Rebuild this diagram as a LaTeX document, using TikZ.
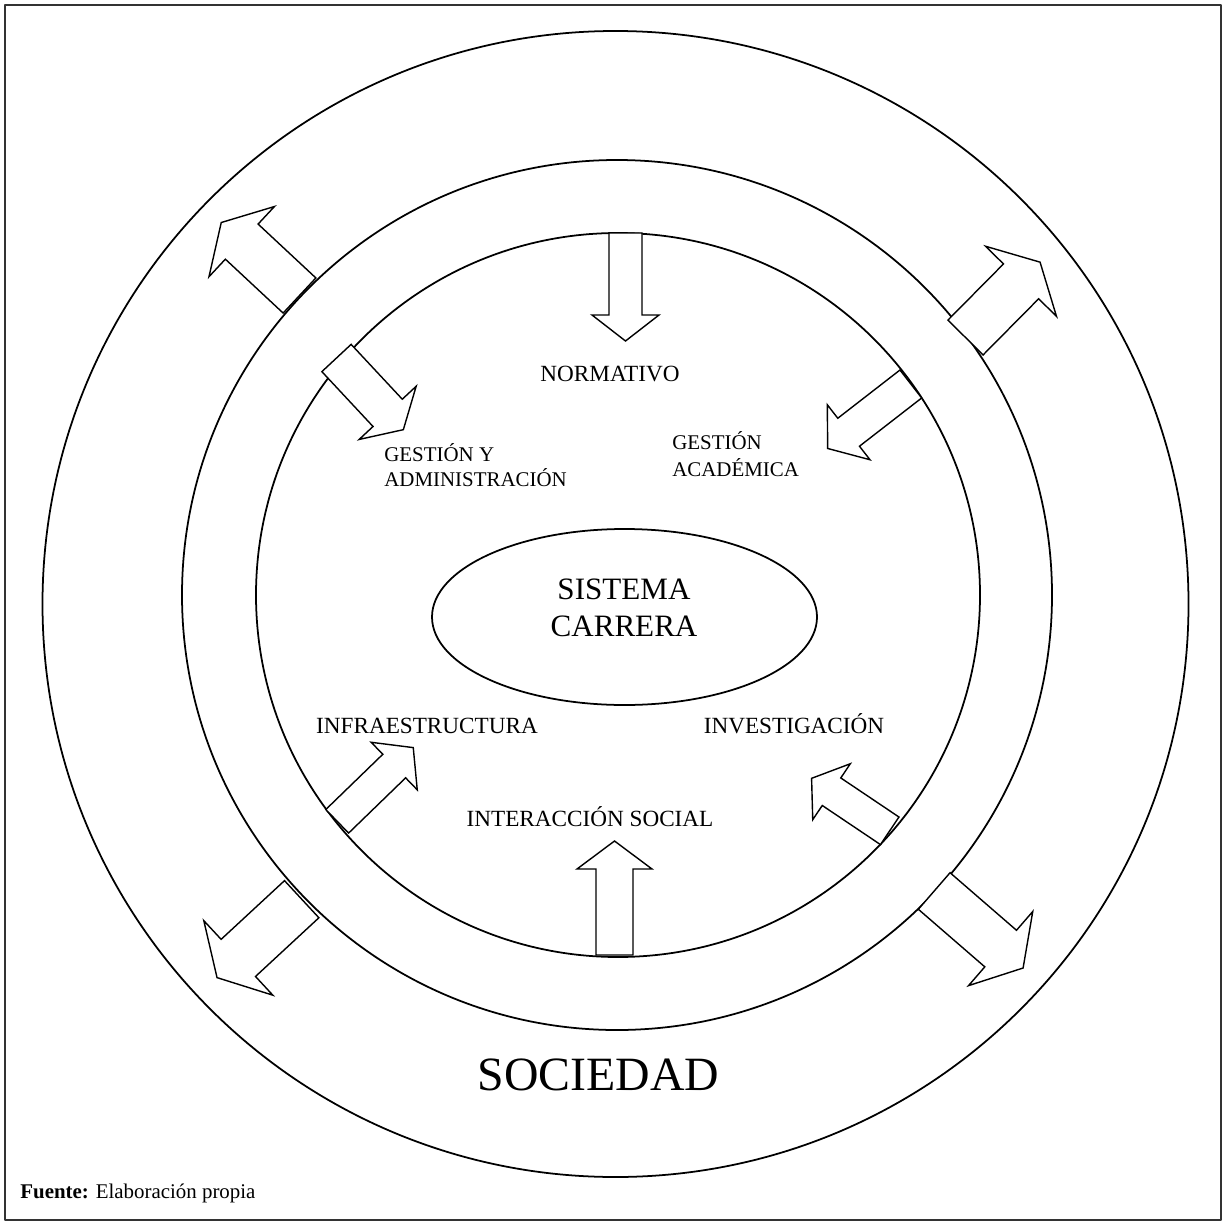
\documentclass[tikz,border=0pt]{standalone}
\usepackage{fontspec}
\setmainfont{Liberation Serif}
\begin{document}
\begin{tikzpicture}[x=0.02cm, y=-0.02cm, line join=round, line cap=round,
	circulo/.style={line width=1pt},
	bloque/.style={draw, fill=white, line width=0.8pt, line join=miter},
	rotulo/.style={inner sep=0pt, font=\fontsize{13.2}{15}\selectfont},
	gestion/.style={inner sep=0pt, align=left, font=\fontsize{11.9}{14.2}\selectfont}]
	\useasboundingbox (0,0) rectangle (1226,1223);
	\draw[line width=0.9pt, black!80] (5,5) rectangle (1221,1220);
	\path (615.5,604) coordinate (O1)
	(617,595) coordinate (O2)
	(618,595) coordinate (O3)
	(624.5,617) coordinate (C);
	\draw[circulo] (O1) circle (573)
	(O2) circle (435)
	(O3) circle (362)
	(C) ellipse (192.5 and 88);
	% flechas: cola x/y, angulo, largo, ancho, ancho punta, largo punta
	\foreach \x/\y/\a/\l/\s/\h/\k in {625.5/233/-90/108/33/67/26, 614.5/955/90/114/37/75/28,
		299.5/295.5/137/107/48/96/28, 336.5/358/-47/98/40/78/23,
		965.5/337.5/45.3/106/49.5/99.7/27, 910.8/384/-142.2/105.2/35.4/69.6/26.5,
		337.2/821.3/44.1/105.9/32.8/66.2/26.5, 301.7/899.2/-137.2/115.4/50.6/101.6/29,
		889.7/830.8/146.1/94.1/33.2/67.4/24, 934.2/891/-40.9/117.6/48.4/98.1/29.7}
	\draw[bloque, shift={(\x,\y)}, rotate=\a] (0,-\s/2) -- (\l-\k,-\s/2) -- (\l-\k,-\h/2) -- (\l,0)
	-- (\l-\k,\h/2) -- (\l-\k,\s/2) -- (0,\s/2) -- cycle;
	\node[inner sep=0pt, align=center, font=\fontsize{17.7}{21.4}\selectfont] (sistema) at (624,608) {SISTEMA\\CARRERA};
	\node[rotulo, anchor=base] (normativo) at (610,381) {NORMATIVO};
	\node[gestion, anchor=base west] (administracion) at (384,486) {GESTIÓN Y\\ADMINISTRACIÓN};
	\node[gestion, anchor=base west, font=\fontsize{11.9}{15.1}\selectfont] (academica) at (672,476) {GESTIÓN\\ACADÉMICA};
	\node[rotulo, anchor=base] (infraestructura) at (427,733) {INFRAESTRUCTURA};
	\node[rotulo, anchor=base] (investigacion) at (794,733) {INVESTIGACIÓN};
	\node[rotulo, anchor=base] (interaccion) at (590,826) {INTERACCIÓN SOCIAL};
	\node[inner sep=0pt, anchor=base, font=\fontsize{27.2}{30}\selectfont] (sociedad) at (598.5,1090) {SOCIEDAD};
	\node[inner sep=0pt, anchor=base west, font=\fontsize{11.9}{14}\selectfont] (fuente) at (20,1198) {\textbf{Fuente:} Elaboración propia};
\end{tikzpicture}
\end{document}
